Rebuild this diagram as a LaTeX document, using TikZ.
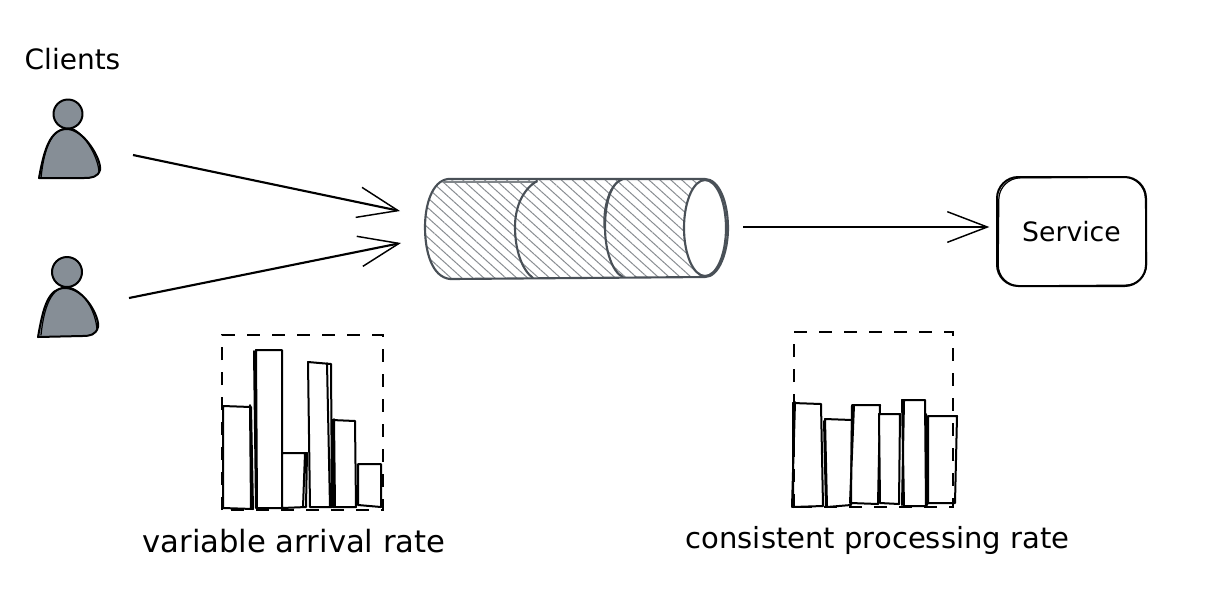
\documentclass[tikz,border=0pt]{standalone}
\usepackage{fontspec}
\setmainfont{DejaVu Sans}
\usetikzlibrary{arrows.meta,patterns.meta}
\definecolor{queuegray}{HTML}{495057}
\definecolor{persongray}{HTML}{868E96}
\tikzset{
  sketchline/.style={line width=1.5pt,black,line cap=round,line join=round},
  thinline/.style={line width=0.9pt,black,line cap=round,line join=round},
  queueline/.style={line width=1.6pt,queuegray,line cap=round},
  personline/.style={sketchline,fill=persongray},
  barbox/.style={line width=1.5pt,black,line cap=round,line join=round,fill=white},
  ratebox/.style={line width=1.8pt,black,dash pattern=on 10pt off 8.75pt},
  flowarrow/.style={line width=1.6pt,black,-{Straight Barb[length=30pt,width=23pt,line width=1.1pt]}},
  handtext/.style={inner sep=0pt,font=\fontsize{#1}{24}\selectfont},
  handtext/.default=20
}
\begin{document}
\begin{tikzpicture}[x=0.75pt,y=0.75pt,yscale=-1,xscale=1]
\useasboundingbox (0,0) rectangle (1228,612);

%Shape: Person
\draw [personline] (39,178) .. controls (44,150) and (50,129) .. (67,129) .. controls (84,129) and (102,160) .. (100,170) .. controls (98,177) and (92,178) .. (84,178) -- cycle ;
\draw [thinline] (41,178) .. controls (44,148) and (52,127) .. (70,128) .. controls (82,130) and (98,155) .. (99,172) ;
\draw [sketchline,fill=persongray] (68,114) circle [radius=14.5] ;
%Shape: Person
\draw [personline] (38,337) .. controls (43,308) and (48,288) .. (65,288) .. controls (85,288) and (100,318) .. (98,327) .. controls (96,335) and (90,336) .. (82,336) -- cycle ;
\draw [thinline] (41,335) .. controls (44,306) and (52,286) .. (68,287) .. controls (84,290) and (96,312) .. (97,330) ;
\draw [sketchline,fill=persongray] (67,272) circle [radius=15] ;

%Shape: Queue
\draw [queueline,pattern={Lines[angle=-42,distance=5.5pt,line width=0.75pt]},pattern color=queuegray!65] (448,179) .. controls (432,181) and (425,205) .. (425,227) .. controls (425,252) and (432,277) .. (450,279) -- (705,277) .. controls (719,277) and (728,252) .. (728,228) .. controls (728,202) and (719,179) .. (705,179) -- cycle ;
\draw [thinline,queuegray!70] (443,182) -- (537,182) ;
\draw [queueline] (537,181) .. controls (522,190) and (515,208) .. (515,227) .. controls (515,250) and (522,270) .. (533,278) ;
\draw [queueline] (623,179) .. controls (610,183) and (605,205) .. (605,227) .. controls (605,250) and (612,272) .. (623,277) ;
\draw [thinline,queuegray] (617,182) .. controls (608,190) and (603,208) .. (604,227) ;
%Shape: Ellipse
\draw [queueline,fill=white] (705,228) ellipse [x radius=21,y radius=48] ;

%Shape: Rounded Rectangle
\node (service) [draw,sketchline,rounded corners=16pt,minimum width=111.75pt,minimum height=81.75pt,inner sep=0pt,font=\fontsize{20}{24}\selectfont] at (1071.5,231.5) {Service};
\draw [thinline,rounded corners=16pt] (999,178) -- (1145,177) -- (1147,285) -- (998,286) -- cycle ;

%Connectors
\coordinate (clientA) at (133,155);
\coordinate (clientB) at (129,298);
\coordinate (queueA) at (400,211);
\coordinate (queueB) at (401,243);
\coordinate (queueOut) at (743,227);
\draw [flowarrow] (clientA) -- (queueA) ;
\draw [flowarrow] (clientB) -- (queueB) ;
\draw [flowarrow,shorten >=5pt] (queueOut) -- (service.west |- queueOut) ;

%Shape: Bars
\draw [barbox] (223,406) -- (251,407) -- (253,509) -- (223,508) -- cycle (250,405) -- (251,509) ;
\draw [barbox] (256,350) -- (282,350) -- (282,508) -- (257,508) -- cycle (254,351) -- (256,508) ;
\draw [barbox] (282,453) -- (307,453) -- (306,507) -- (282,508) -- cycle (305,453) -- (303,507) ;
\draw [barbox] (308,362) -- (331,364) -- (332,507) -- (310,507) -- cycle (327,363) -- (330,507) ;
\draw [barbox] (332,420) -- (355,421) -- (356,507) -- (333,507) -- cycle (334,419) -- (335,507) ;
\draw [barbox] (358,464) -- (381,464) -- (381,507) -- (358,505) -- cycle ;
\draw [barbox] (793,403) -- (821,404) -- (823,506) -- (793,507) -- cycle (795,402) -- (792,507) ;
\draw [barbox] (825,419) -- (852,420) -- (851,505) -- (827,507) -- cycle (824,421) -- (826,507) ;
\draw [barbox] (852,405) -- (880,405) -- (878,504) -- (851,503) -- cycle (854,405) -- (850,503) ;
\draw [barbox] (879,414) -- (900,414) -- (899,504) -- (880,503) -- cycle ;
\draw [barbox] (902,400) -- (925,400) -- (926,506) -- (904,506) -- cycle (904,401) -- (902,505) ;
\draw [barbox] (928,416) -- (957,416) -- (955,503) -- (928,503) -- cycle (926,414) -- (927,505) ;

%Shape: Dashed Rectangle
\draw [ratebox] (222,510) -- (222,335) -- (383,335) -- (383,510) -- cycle ;
\draw [ratebox] (794,507) -- (794,332) -- (953,332) -- (953,507) -- cycle ;

% Text Node
\node (clients) [handtext=21] at (72.5,59) {Clients};
% Text Node
\node (arrivalrate) [handtext=23] at (294,541) {variable arrival rate};
% Text Node
\node (processingrate) [handtext=21.8] at (877.5,540) {consistent processing rate};
\end{tikzpicture}
\end{document}
